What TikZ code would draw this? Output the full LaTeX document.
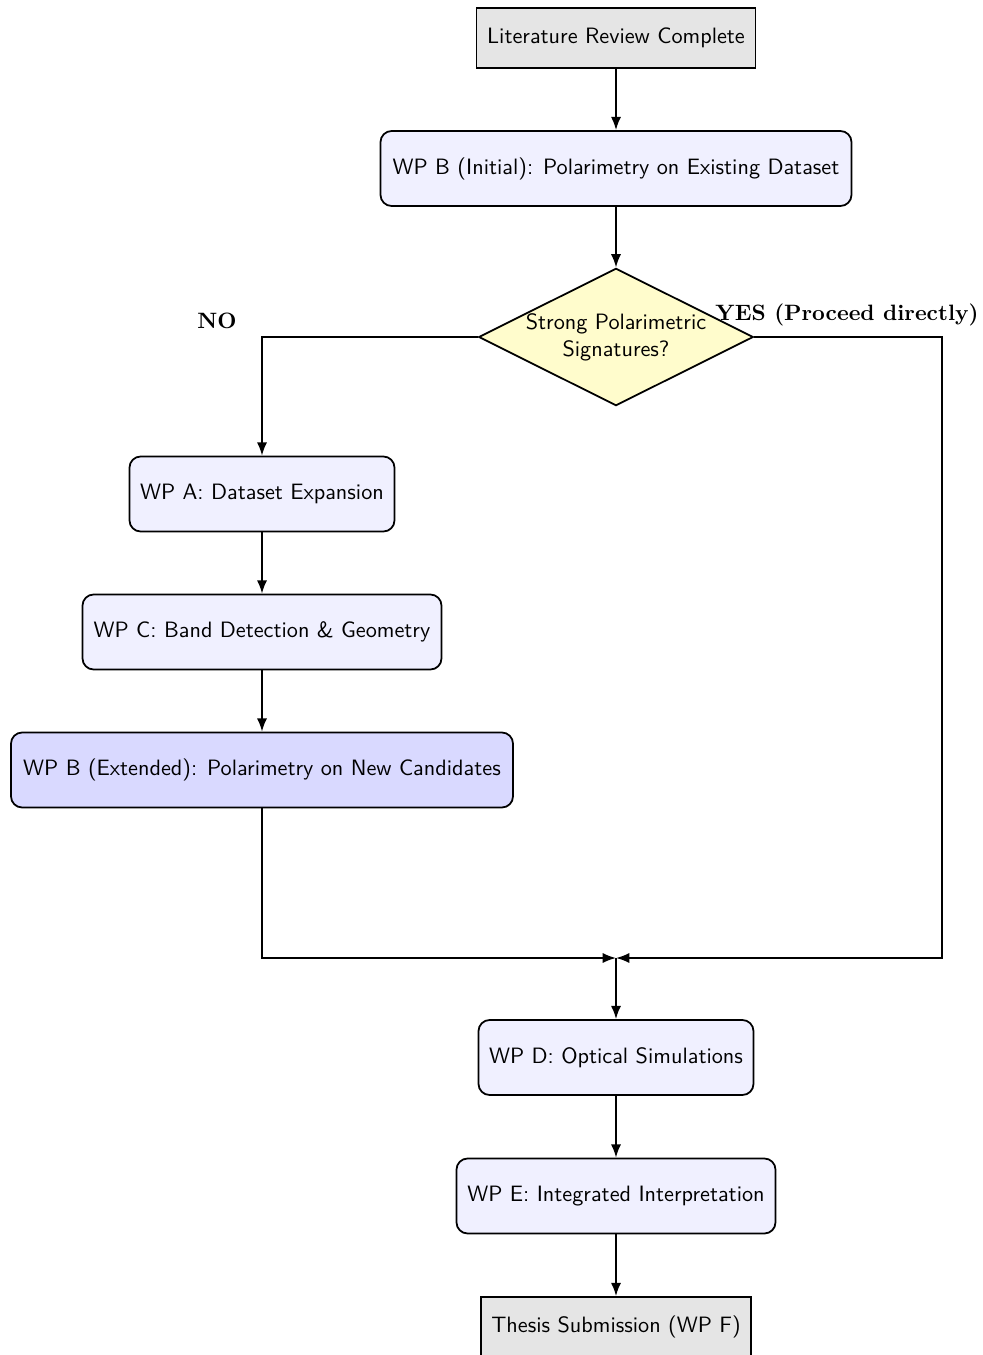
\documentclass[tikz,border=0pt]{standalone}
\usetikzlibrary{shapes.geometric,arrows.meta}
\begin{document}
\begin{tikzpicture}[x=0.45pt,y=-0.45pt,
  font=\sffamily,
  line width=0.8pt,
  conn/.style={-{Latex[length=6pt,width=4.6pt]}},
  termbox/.style={draw,fill=black!10,minimum height=27pt,inner sep=0pt},
  wpbox/.style={draw,rounded corners=5pt,fill=blue!6,minimum height=33.75pt,inner sep=0pt},
  wpext/.style={wpbox,fill=blue!15},
  decision/.style={draw,diamond,aspect=2,fill=yellow!20,minimum width=121.95pt,minimum height=60.3pt,inner sep=0pt,align=center},
  lab/.style={font=\rmfamily\bfseries}
]
\useasboundingbox (0,0) rectangle (983,1355);
\node[termbox,minimum width=125.55pt] (lit) at (616,38) {Literature Review Complete};
\node[wpbox,minimum width=211.95pt] (wpbi) at (616,168.5) {WP B (Initial): Polarimetry on Existing Dataset};
\node[decision] (dec) at (616,337) {Strong Polarimetric\\Signatures?};
\node[wpbox,minimum width=119.25pt] (wpa) at (262,494) {WP A: Dataset Expansion};
\node[wpbox,minimum width=161.55pt] (wpc) at (262,632) {WP C: Band Detection \& Geometry};
\node[wpext,minimum width=225.9pt] (wpbe) at (262,770) {WP B (Extended): Polarimetry on New Candidates};
\coordinate (merge) at (616,958);
\node[wpbox,minimum width=123.75pt] (wpd) at (616,1057.5) {WP D: Optical Simulations};
\node[wpbox,minimum width=143.55pt] (wpe) at (616,1196) {WP E: Integrated Interpretation};
\node[termbox,minimum width=121.5pt] (thesis) at (616,1327) {Thesis Submission (WP F)};
\node[lab] (no) at (217,321) {NO};
\node[lab] (yes) at (847,315) {YES (Proceed directly)};
\draw[conn] (lit) -- (wpbi);
\draw[conn] (wpbi) -- (dec);
\draw[conn] (dec.west) -| (wpa.north);
\draw[conn] (wpa) -- (wpc);
\draw[conn] (wpc) -- (wpbe);
\draw[conn] (wpbe.south) |- (merge);
\draw[conn] (dec.east) -- (942,337) |- (merge);
\draw[conn] (merge) -- (wpd);
\draw[conn] (wpd) -- (wpe);
\draw[conn] (wpe) -- (thesis);
\end{tikzpicture}
\end{document}
